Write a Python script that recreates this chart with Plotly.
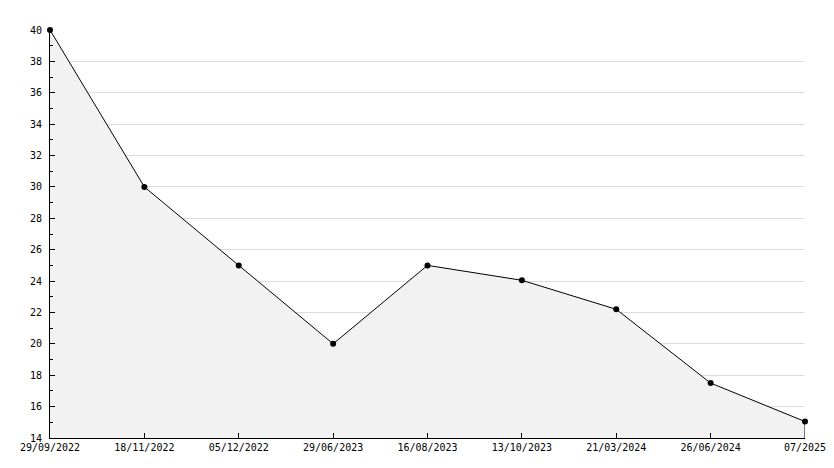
import plotly.graph_objects as go

dates = ["29/09/2022", "18/11/2022", "05/12/2022", "29/06/2023", "16/08/2023",
         "13/10/2023", "21/03/2024", "26/06/2024", "07/2025"]
values = [40, 30, 25, 20, 25, 24.05, 22.2, 17.5, 15.05]
y_min, y_max = 14, 40

fig = go.Figure()
fig.add_trace(go.Scatter(
    x=dates, y=values, mode="lines+markers",
    fill="tozeroy", fillcolor="#f2f2f2",
    line=dict(color="black", width=1),
    marker=dict(symbol="circle", size=6, color="black"),
    cliponaxis=False,
    hoverinfo="skip", showlegend=False,
))
# closing edge of the filled area at the last point
fig.add_trace(go.Scatter(
    x=[dates[-1], dates[-1]], y=[values[-1], y_min], mode="lines",
    line=dict(color="black", width=1), cliponaxis=False,
    hoverinfo="skip", showlegend=False,
))

font = dict(family="DejaVu Sans Mono", size=10, color="black")
fig.update_layout(
    width=826, height=460,
    margin=dict(l=42, r=29, t=22, b=30),
    paper_bgcolor="white", plot_bgcolor="white",
    font=font,
    xaxis=dict(
        type="category", range=[0, len(dates) - 1], automargin=False,
        tickmode="array", tickvals=dates, ticktext=dates,
        ticks="inside", ticklen=5, tickcolor="black",
        showline=True, linecolor="black", linewidth=1,
        showgrid=False, zeroline=False, tickfont=font,
    ),
    yaxis=dict(
        range=[y_min, y_max], dtick=2, tick0=14, automargin=False,
        ticks="inside", ticklen=5, tickcolor="black",
        ticklabelstandoff=5,
        showline=True, linecolor="black", linewidth=1,
        showgrid=True, gridcolor="#dcdcdc", gridwidth=1,
        zeroline=False, tickfont=font,
        minor=dict(dtick=1, ticks="inside", ticklen=3, tickcolor="black", showgrid=False),
    ),
)

fig.write_html("out.html")
